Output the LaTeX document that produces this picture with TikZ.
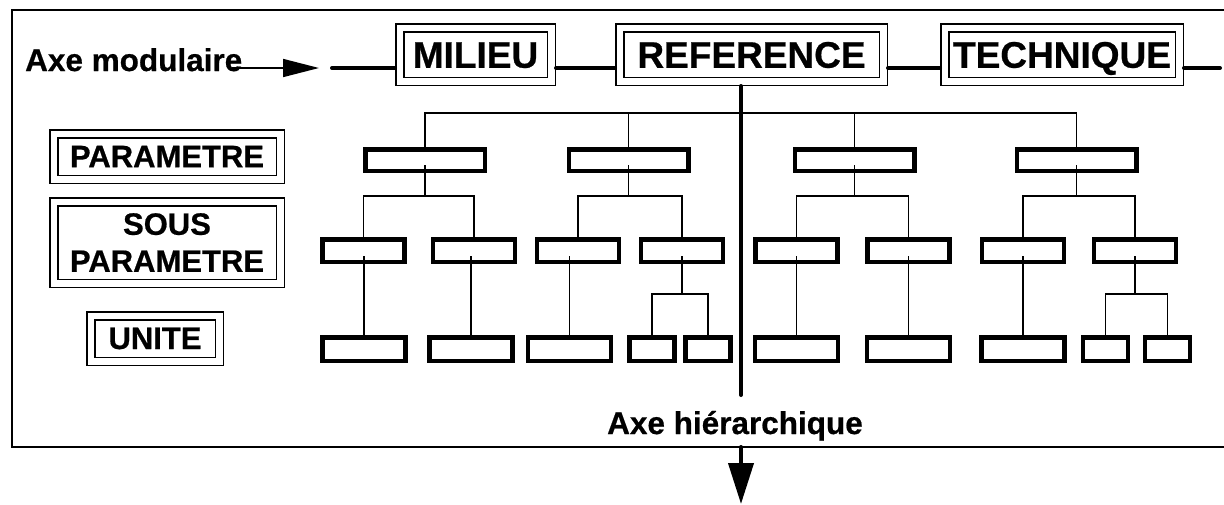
\documentclass[tikz,border=0pt]{standalone}
\usepackage{fontspec}
\setmainfont{Liberation Sans}[BoldFeatures={FakeBold=0.6}]
\usetikzlibrary{arrows.meta}

\tikzset{
  axisbox/.style={draw,double,line width=1.5pt,double distance=6.5pt,outer sep=4.75pt,inner sep=0pt,
    minimum height=53.5pt,font=\fontsize{37}{40}\selectfont\bfseries,text height=26.5pt,text depth=0pt},
  legendbox/.style={draw,double,line width=1.5pt,double distance=6.5pt,outer sep=4.75pt,inner sep=0pt,
    font=\fontsize{31}{37}\selectfont\bfseries,align=center},
  axelabel/.style={anchor=base west,inner sep=0pt,font=\fontsize{31.5}{36}\selectfont\bfseries},
  parambox/.style={draw,line width=4.5pt,inner sep=0pt,outer sep=0pt,minimum width=119.5pt,minimum height=21.5pt},
  sousbox/.style={draw,line width=4.5pt,inner sep=0pt,outer sep=0pt,minimum width=82pt,minimum height=22.5pt},
  unitbox/.style={draw,line width=4.5pt,inner sep=0pt,outer sep=0pt,minimum width=83pt,minimum height=23.5pt},
  smallbox/.style={unitbox,minimum width=45pt},
  link/.style={line width=1.6pt},
  axis/.style={line width=4pt,line cap=round},
}

\begin{document}
\begin{tikzpicture}[x=1pt,y=-1pt]
\path[use as bounding box,fill=white] (0,0) rectangle (1224,504);

% cadre
\node[draw,line width=1.8pt,inner sep=0pt,outer sep=0pt,anchor=north west,minimum width=1230pt,minimum height=437pt] (cadre) at (12,10) {};

% axe modulaire
\node[axisbox,minimum width=151.5pt] (milieu) at (475.5,54.5) {MILIEU};
\node[axisbox,minimum width=263.5pt] (ref) at (751.5,54.5) {REFERENCE};
\node[axisbox,minimum width=234.5pt] (tech) at (1062,54.5) {TECHNIQUE};
\coordinate (modstart) at (332,68);
\coordinate (modend) at (1220,68);
\draw[axis] (modstart) -- (modstart -| milieu.west);
\draw[axis] (milieu.east |- modstart) -- (ref.west |- modstart);
\draw[axis] (ref.east |- modstart) -- (tech.west |- modstart);
\draw[axis] (tech.east |- modstart) -- (modend);
\node[axelabel] (axmod) at (25,71) {Axe modulaire};
\draw[line width=1.6pt,-{Triangle[length=36pt,width=18pt]}] ([shift={(-10pt,3pt)}]axmod.base east) -- ([xshift=-13pt]modstart);

% legende
\node[legendbox,minimum width=226.5pt,minimum height=45.5pt] (param) at (167,156.5) {PARAMETRE};
\node[legendbox,minimum width=226.5pt,minimum height=81.5pt] (sousparam) at (167,242.5) {SOUS\\PARAMETRE};
\node[legendbox,minimum width=128.5pt,minimum height=45.5pt] (unite) at (155,338.5) {UNITE};

% parametres
\node[parambox] (p1) at (425,160) {};
\node[parambox] (p2) at (628.5,160) {};
\node[parambox] (p3) at (854.5,160) {};
\node[parambox] (p4) at (1076.5,160) {};

% sous-parametres
\node[sousbox] (s1a) at (363.5,250.5) {};
\node[sousbox] (s1b) at (474,250.5) {};
\node[sousbox] (s2a) at (578,250.5) {};
\node[sousbox] (s2b) at (682,250.5) {};
\node[sousbox] (s3a) at (796.5,250.5) {};
\node[sousbox] (s3b) at (908.5,250.5) {};
\node[sousbox] (s4a) at (1023,250.5) {};
\node[sousbox] (s4b) at (1135,250.5) {};

% unites
\node[unitbox] (u1a) at (364,349) {};
\node[unitbox] (u1b) at (471,349) {};
\node[unitbox] (u2a) at (569.5,349) {};
\node[smallbox] (u2b) at (652,349) {};
\node[smallbox] (u2c) at (708,349) {};
\node[unitbox] (u3a) at (796.5,349) {};
\node[unitbox] (u3b) at (908.5,349) {};
\node[unitbox] (u4a) at (1023,349) {};
\node[smallbox] (u4b) at (1105.5,349) {};
\node[smallbox] (u4c) at (1167.5,349) {};

\coordinate (bus0) at (0,113);
\coordinate (bus1) at (0,196);
\coordinate (bus2) at (0,294);

\draw[link] (p1.north) -- (p1.north |- bus0) -- (p4.north |- bus0) -- (p4.north);
\draw[link] (p2.north) -- (p2.north |- bus0);
\draw[link] (p3.north) -- (p3.north |- bus0);
\foreach \p/\a/\b in {p1/s1a/s1b,p2/s2a/s2b,p3/s3a/s3b,p4/s4a/s4b}{
  \draw[link] ([yshift=5.5pt]\p.south) -- (\p.south |- bus1);
  \draw[link] (\a.north) -- (\a.north |- bus1) -- (\b.north |- bus1) -- (\b.north);
}
\foreach \s/\u in {s1a/u1a,s1b/u1b,s2a/u2a,s3a/u3a,s3b/u3b,s4a/u4a}
  \draw[link] ([yshift=5.5pt]\s.south -| \u.north) -- (\u.north);
\foreach \s/\a/\b in {s2b/u2b/u2c,s4b/u4b/u4c}{
  \draw[link] ([yshift=5.5pt]\s.south) -- (\s.south |- bus2);
  \draw[link] (\a.north) -- (\a.north |- bus2) -- (\b.north |- bus2) -- (\b.north);
}

% axe hierarchique
\coordinate (hend) at (741,395);
\coordinate (htip) at (741,504);
\draw[axis] (ref.south -| hend) -- (hend);
\node[axelabel] (axhier) at (607,434) {Axe hiérarchique};
\draw[axis,-{Triangle[length=41pt,width=25pt]}] (cadre.south -| hend) -- (htip);
\end{tikzpicture}
\end{document}
